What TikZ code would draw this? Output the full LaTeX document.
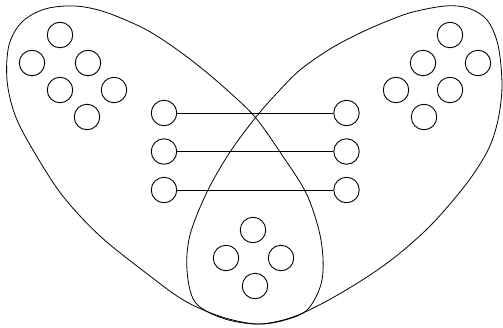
\documentclass[tikz,border=0pt]{standalone}
\begin{document}
\begin{tikzpicture}[x=1pt,y=-1pt,line width=0.9pt,
  dot/.style={circle,draw,inner sep=0pt,minimum size=25.5pt},
  wing/.style={draw,line width=0.8pt}]
\useasboundingbox (0,0) rectangle (503,327);
% left wing
\draw[wing] plot[smooth cycle,tension=0.55] coordinates {
 (257,324) (222,317) (185,301) (150,276) (100,236) (62,195) (33,150) (15,115)
 (7,80) (9,45) (22,22) (45,9) (75,6) (105,12) (143,28) (172,46) (200,67) (227,90)
 (255,117) (282,155) (307,195) (321,240) (322,280) (308,309) (285,320)};
% right wing
\draw[wing] plot[smooth cycle,tension=0.55] coordinates {
 (257,324) (290,318) (325,302) (367,277) (400,253) (433,223) (467,183) (488,150)
 (498,120) (502,85) (498,45) (487,20) (468,8) (445,6) (413,12) (390,20)
 (360,33) (330,49) (300,70) (278,92) (256,117) (230,152) (207,192) (190,235)
 (187,270) (195,302) (222,318)};
% top-left cluster
\node[dot] (a1) at (60,35) {};
\node[dot] (a2) at (32,63) {};
\node[dot] (a3) at (88,63) {};
\node[dot] (a4) at (60,90) {};
\node[dot] (a5) at (114,90) {};
\node[dot] (a6) at (87,117) {};
% top-right cluster
\node[dot] (b1) at (450,35) {};
\node[dot] (b2) at (423,63) {};
\node[dot] (b3) at (478,63) {};
\node[dot] (b4) at (396,90) {};
\node[dot] (b5) at (450,90) {};
\node[dot] (b6) at (424,117) {};
% bottom cluster
\node[dot] (c1) at (253,230) {};
\node[dot] (c2) at (226,258) {};
\node[dot] (c3) at (281,258) {};
\node[dot] (c4) at (255,286) {};
% connected pairs
\node[dot] (l1) at (164,113) {};
\node[dot] (l2) at (164,151.5) {};
\node[dot] (l3) at (164,190) {};
\node[dot] (r1) at (346.5,113) {};
\node[dot] (r2) at (346.5,151.5) {};
\node[dot] (r3) at (346.5,190) {};
\draw (l1) -- (r1);
\draw (l2) -- (r2);
\draw (l3) -- (r3);
\end{tikzpicture}
\end{document}
